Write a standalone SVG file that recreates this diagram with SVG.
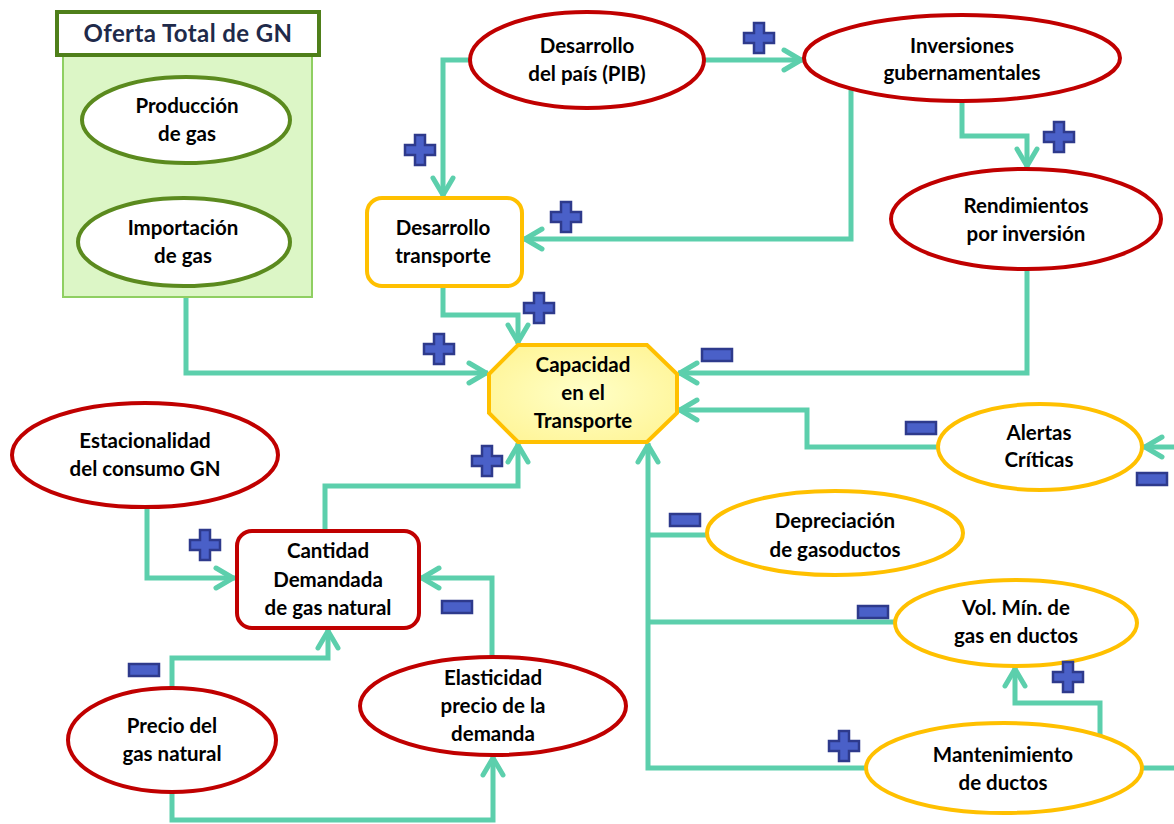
<svg xmlns="http://www.w3.org/2000/svg" width="1174" height="824" viewBox="0 0 1174 824">
<defs>
<style>
text{font-family:Lato,"Open Sans","Liberation Sans",sans-serif;font-weight:700;font-size:20.5px;fill:#000;text-anchor:middle}
.title{font-size:24px;fill:#1f2a4a;letter-spacing:0.4px}
.red{fill:#fff;stroke:#c00000;stroke-width:4}
.yel{fill:#fff;stroke:#ffc000;stroke-width:4}
.grn{fill:#fff;stroke:#5b8a1e;stroke-width:4}
.conn path{fill:none;stroke:#5ccfac;stroke-width:5;stroke-linejoin:miter}
.arr{marker-end:url(#ah)}
</style>
<marker id="ah" markerUnits="userSpaceOnUse" markerWidth="40" markerHeight="40" viewBox="-25 -20 40 40" refX="0" refY="0" orient="auto">
<path d="M-19,-10 L-2,0 L-19,10" fill="none" stroke="#5ccfac" stroke-width="5" stroke-linecap="round" stroke-linejoin="round"/>
</marker>
<radialGradient id="octg" cx="0.5" cy="0.5" r="0.6">
<stop offset="0" stop-color="#ffffc8"/>
<stop offset="1" stop-color="#fff598"/>
</radialGradient>
<path id="plus" d="M-5,-15 H5 V-5 H15 V5 H5 V15 H-5 V5 H-15 V-5 H-5 Z" fill="#4a60c8" stroke="#2e3a8c" stroke-width="2.5"/>
<rect id="minus" x="-15" y="-6" width="30" height="12" fill="#4a60c8" stroke="#2e3a8c" stroke-width="2.5"/>
</defs>
<rect width="1174" height="824" fill="#fff"/>

<g id="connectors" class="conn">
<path class="arr" d="M186,297 V373 H488"/>
<path class="arr" d="M470,60 H443 V197"/>
<path class="arr" d="M704,60 H803"/>
<path class="arr" d="M851,90 V239 H523"/>
<path class="arr" d="M962,102 V136 H1027 V168"/>
<path class="arr" d="M1027,269 V373 H678"/>
<path class="arr" d="M443,286 V315 H518 V344"/>
<path class="arr" d="M938,447 H807 V410 H678"/>
<path class="arr" d="M1174,447 H1143"/>
<path d="M707,535 H648"/>
<path d="M895,622 H648"/>
<path class="arr" d="M866,768 H648 V443"/>
<path d="M1142,768 H1174"/>
<path class="arr" d="M1100,737 V703 H1015 V667"/>
<path class="arr" d="M147,507 V578 H235"/>
<path class="arr" d="M325,531 V486 H518 V443"/>
<path class="arr" d="M492,658 V578 H420"/>
<path class="arr" d="M172,688 V658 H328 V629"/>
<path class="arr" d="M172,792 V820 H493 V756"/>
</g>

<g id="oferta">
<rect x="63" y="55" width="249" height="242" fill="#dcf6c6" stroke="#8fcf62" stroke-width="2"/>
<rect x="57" y="12" width="262" height="43" fill="#fff" stroke="#4f7f1a" stroke-width="4"/>
<text class="title" x="188" y="42">Oferta Total de GN</text>
</g>
<g id="produccion">
<ellipse class="grn" cx="186" cy="120" rx="104" ry="43"/>
<text x="187" y="113">Producción</text><text x="187" y="141">de gas</text>
</g>
<g id="importacion">
<ellipse class="grn" cx="184" cy="242" rx="106" ry="44"/>
<text x="183" y="235">Importación</text><text x="183" y="263">de gas</text>
</g>
<g id="pib">
<ellipse class="red" cx="587" cy="60" rx="117" ry="48"/>
<text x="587" y="53">Desarrollo</text><text x="587" y="81">del país (PIB)</text>
</g>
<g id="inversiones">
<ellipse class="red" cx="962" cy="58" rx="158" ry="43"/>
<text x="962" y="53">Inversiones</text><text x="962" y="80">gubernamentales</text>
</g>
<g id="rendimientos">
<ellipse class="red" cx="1026" cy="219" rx="135" ry="50"/>
<text x="1026" y="213">Rendimientos</text><text x="1026" y="241">por inversión</text>
</g>
<g id="desarrollo-transporte">
<rect class="yel" x="367" y="198" width="155" height="88" rx="15"/>
<text x="443" y="235">Desarrollo</text><text x="443" y="263">transporte</text>
</g>
<g id="capacidad">
<polygon points="518,345 647,345 677,374 677,413 647,442 518,442 489,413 489,374" fill="url(#octg)" stroke="#ffc000" stroke-width="4"/>
<text x="583" y="372">Capacidad</text><text x="583" y="400">en el</text><text x="583" y="428">Transporte</text>
</g>
<g id="alertas">
<ellipse class="yel" cx="1040" cy="447" rx="102" ry="43"/>
<text x="1039" y="440">Alertas</text><text x="1039" y="467">Críticas</text>
</g>
<g id="depreciacion">
<ellipse class="yel" cx="835" cy="533" rx="128" ry="42"/>
<text x="835" y="528">Depreciación</text><text x="835" y="557">de gasoductos</text>
</g>
<g id="volmin">
<ellipse class="yel" cx="1016" cy="623" rx="121" ry="43"/>
<text x="1016" y="615">Vol. Mín. de</text><text x="1016" y="643">gas en ductos</text>
</g>
<g id="mantenimiento">
<ellipse class="yel" cx="1004" cy="768" rx="138" ry="45"/>
<text x="1003" y="762">Mantenimiento</text><text x="1003" y="790">de ductos</text>
</g>
<g id="estacionalidad">
<ellipse class="red" cx="145" cy="455" rx="133" ry="52"/>
<text x="145" y="448">Estacionalidad</text><text x="145" y="476">del consumo GN</text>
</g>
<g id="cantidad">
<rect fill="#fff" stroke="#c00000" stroke-width="4" x="237" y="531" width="182" height="97" rx="15"/>
<text x="328" y="558">Cantidad</text><text x="328" y="587">Demandada</text><text x="328" y="615">de gas natural</text>
</g>
<g id="elasticidad">
<ellipse class="red" cx="493" cy="706" rx="133" ry="49"/>
<text x="493" y="685">Elasticidad</text><text x="493" y="713">precio de la</text><text x="493" y="741">demanda</text>
</g>
<g id="precio">
<ellipse class="red" cx="172" cy="740" rx="104" ry="52"/>
<text x="172" y="733">Precio del</text><text x="172" y="761">gas natural</text>
</g>

<g id="signs">
<use href="#plus" x="759" y="38"/>
<use href="#plus" x="1059" y="137"/>
<use href="#plus" x="420" y="150"/>
<use href="#plus" x="566" y="217"/>
<use href="#plus" x="539" y="308"/>
<use href="#plus" x="439" y="349"/>
<use href="#plus" x="487" y="461"/>
<use href="#plus" x="205" y="545"/>
<use href="#plus" x="844" y="746"/>
<use href="#plus" x="1068" y="677"/>
<use href="#minus" x="717" y="355"/>
<use href="#minus" x="921" y="428"/>
<use href="#minus" x="1152" y="479"/>
<use href="#minus" x="685" y="520"/>
<use href="#minus" x="873" y="612"/>
<use href="#minus" x="457" y="607"/>
<use href="#minus" x="144" y="670"/>
</g>
</svg>
